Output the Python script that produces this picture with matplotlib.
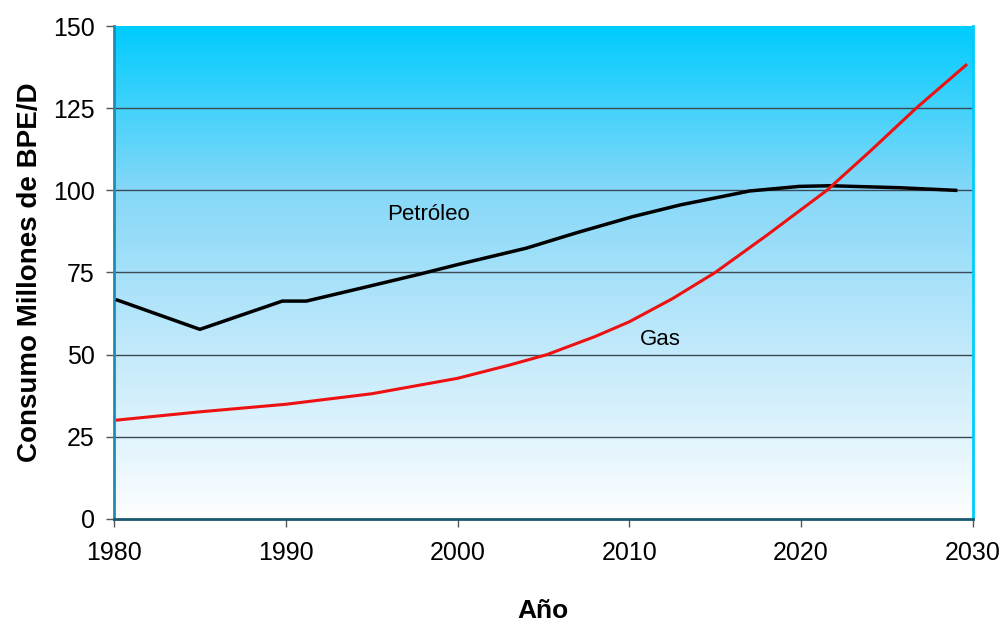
import numpy as np
import matplotlib.pyplot as plt
from matplotlib.colors import LinearSegmentedColormap

plt.rcParams['font.family'] = ['Liberation Sans', 'DejaVu Sans']

# Petróleo (black) and Gas (red)
petroleo_years = [1980.2, 1985.0, 1989.8, 1991.2, 1995.0, 1997.8, 2000.0, 2004.0,
                  2007.0, 2010.2, 2013.0, 2015.3, 2017.0, 2019.9, 2021.7, 2025.7, 2029.0]
petroleo_vals = [66.6, 57.7, 66.3, 66.3, 71.0, 74.5, 77.4, 82.4,
                 87.2, 92.0, 95.6, 98.0, 99.8, 101.2, 101.4, 100.8, 100.0]

gas_years = [1980.2, 1985.0, 1990.0, 1995.0, 2000.0, 2003.0, 2005.2, 2008.0,
             2010.0, 2012.5, 2015.0, 2018.0, 2021.5, 2024.0, 2026.7, 2029.6]
gas_vals = [30.1, 32.6, 34.9, 38.1, 42.8, 46.8, 50.0, 55.5,
            60.0, 67.0, 75.0, 86.3, 100.0, 111.8, 125.0, 138.1]

x_ticks = [1980, 1990, 2000, 2010, 2020, 2030]
y_ticks = [0, 25, 50, 75, 100, 125, 150]

fig = plt.figure(figsize=(10.05, 6.21), dpi=100)
ax = fig.add_axes([0.1134, 0.1643, 0.8546, 0.7938])

# gradient background: cyan at top fading to white at bottom
cmap = LinearSegmentedColormap.from_list('bg', ['#fdfeff', '#c4eafb', '#86d8f8', '#00ccff'])
grad = np.linspace(0, 1, 256).reshape(-1, 1)
ax.imshow(grad, extent=[1980, 2030, 0, 150], origin='lower', aspect='auto',
          cmap=cmap, zorder=0)

ax.set_xlim(1980, 2030)
ax.set_ylim(0, 150)

for y in y_ticks[1:-1]:
    ax.axhline(y, color='#3a4a55', linewidth=1.0, zorder=1)

ax.plot(petroleo_years, petroleo_vals, color='black', linewidth=2.5, zorder=3)
ax.plot(gas_years, gas_vals, color='#ee1111', linewidth=2.2, zorder=4)

ax.text(1998.3, 92.5, 'Petróleo', fontsize=16, ha='center', va='center')
ax.text(2011.8, 54.5, 'Gas', fontsize=16, ha='center', va='center')

ax.set_xticks(x_ticks)
ax.set_yticks(y_ticks)
ax.tick_params(axis='both', labelsize=18, direction='out', color='#555555',
               length=6, width=1)
ax.tick_params(axis='x', pad=10)
ax.tick_params(axis='y', pad=8)

ax.spines['top'].set_visible(False)
ax.spines['left'].set_color('#1e8db5')
ax.spines['left'].set_linewidth(2)
ax.spines['right'].set_color('#00ccff')
ax.spines['right'].set_linewidth(2)
ax.spines['bottom'].set_color('#1a5a70')
ax.spines['bottom'].set_linewidth(2)

ax.set_xlabel('Año', fontsize=19, fontweight='bold', labelpad=24)
ax.set_ylabel('Consumo Millones de BPE/D', fontsize=20, fontweight='bold', labelpad=7)

fig.savefig('out.png', dpi=100, facecolor='white')
